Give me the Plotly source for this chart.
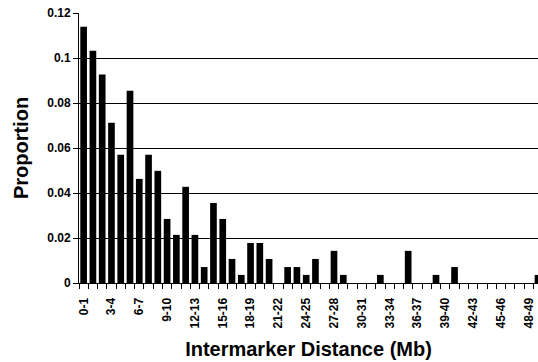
import plotly.graph_objects as go

categories = [f"{i}-{i+1}" for i in range(50)]
proportion = [0.1140, 0.1033, 0.0927, 0.0713, 0.0570, 0.0855, 0.0463, 0.0570, 0.0499, 0.0285,
              0.0214, 0.0428, 0.0214, 0.0071, 0.0356, 0.0285, 0.0107, 0.0036, 0.0178, 0.0178,
              0.0107, 0.0, 0.0071, 0.0071, 0.0036, 0.0107, 0.0, 0.0143, 0.0036, 0.0,
              0.0, 0.0, 0.0036, 0.0, 0.0, 0.0143, 0.0, 0.0, 0.0036, 0.0,
              0.0071, 0.0, 0.0, 0.0, 0.0, 0.0, 0.0, 0.0, 0.0, 0.0036]
y_ticks = [0, 0.02, 0.04, 0.06, 0.08, 0.1, 0.12]
y_ticktext = ["0", "0.02", "0.04", "0.06", "0.08", "0.1", "0.12"]

xpos = list(range(len(categories)))
label_idx = xpos[::3]

FONT = "Liberation Sans, Arial, sans-serif"

fig = go.Figure(go.Bar(
    x=xpos, y=proportion, marker=dict(color="black", line=dict(width=0)),
    width=0.72, hovertext=categories,
))

fig.update_layout(
    width=538, height=362,
    margin=dict(l=79, r=0, t=13, b=79),
    plot_bgcolor="white", paper_bgcolor="white",
    showlegend=False,
    font=dict(family=FONT, color="black"),
)

fig.update_xaxes(
    range=[-0.5, 49.0],
    tickmode="array", tickvals=label_idx, ticktext=[categories[i] for i in label_idx],
    tickangle=-90,
    ticks="outside", ticklen=9, tickcolor="rgba(0,0,0,0)",
    tickfont=dict(family=FONT, size=12, weight="bold", color="black"),
    showline=True, linecolor="black", linewidth=1,
    showgrid=False, zeroline=False,
    minor=dict(tickmode="array", tickvals=[i - 0.5 for i in range(len(categories) + 1)],
               ticks="outside", ticklen=5, tickcolor="black", tickwidth=1, showgrid=False),
    title=dict(text="Intermarker Distance (Mb)", standoff=14,
               font=dict(family=FONT, size=20, weight="bold", color="black")),
    automargin=False,
)

fig.update_yaxes(
    range=[0, 0.1201],
    tickmode="array", tickvals=y_ticks, ticktext=y_ticktext,
    ticks="outside", ticklen=5, tickcolor="black",
    tickfont=dict(family=FONT, size=12, weight="bold", color="black"),
    showline=True, linecolor="black", linewidth=1,
    showgrid=True, gridcolor="black", gridwidth=1,
    zeroline=False,
    title=dict(text="Proportion", standoff=13,
               font=dict(family=FONT, size=20, weight="bold", color="black")),
    automargin=False,
)

fig.write_html("out.html")
